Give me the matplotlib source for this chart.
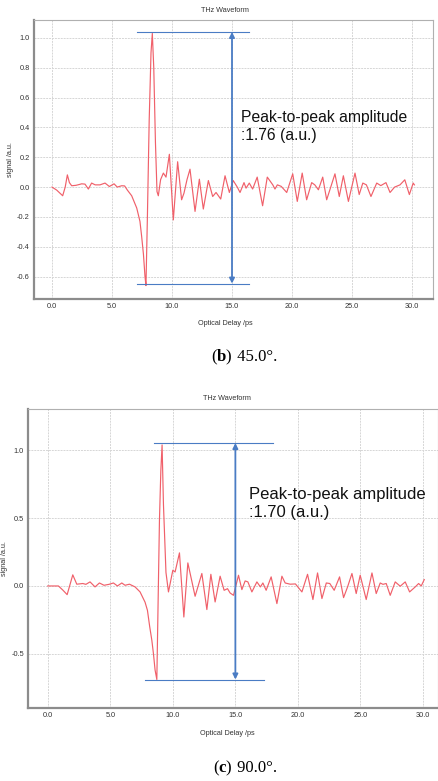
import numpy as np
import matplotlib
matplotlib.use("Agg")
import matplotlib.pyplot as plt
from matplotlib.ticker import FormatStrFormatter

plt.rcParams['font.family'] = ['Liberation Sans', 'DejaVu Sans']
plt.rcParams['axes.unicode_minus'] = False

# ---- panel (b) 45.0 deg : waveform ----
delay_b = [0.0, 0.39, 0.89, 1.1, 1.28, 1.45, 1.64, 2.0, 2.3, 2.47, 2.75, 3.03, 3.3,
           3.6, 4.0, 4.42, 4.78, 5.17, 5.44, 5.8, 6.05, 6.28, 6.64, 7.06, 7.33, 7.47,
           7.62, 7.75, 7.83, 7.95, 8.1, 8.25, 8.36, 8.48, 8.62, 8.75, 8.86, 9.05, 9.28,
           9.5, 9.78, 10.11, 10.47, 10.8, 11.0, 11.25, 11.5, 11.92, 12.28, 12.61, 13.03,
           13.39, 13.67, 14.06, 14.42, 14.78, 15.1, 15.44, 15.67, 16.0, 16.17, 16.44,
           16.72, 17.1, 17.55, 17.94, 18.4, 18.58, 18.78, 19.1, 19.56, 20.06, 20.44,
           20.85, 21.22, 21.64, 21.9, 22.2, 22.56, 22.89, 23.2, 23.58, 23.94, 24.28,
           24.7, 25.25, 25.6, 25.9, 26.2, 26.58, 27.06, 27.4, 27.83, 28.17, 28.55, 29.0,
           29.4, 29.78, 30.1, 30.2]
signal_b = [0.0, -0.02, -0.058, 0.0, 0.082, 0.03, 0.009, 0.012, 0.018, 0.022, 0.02,
            -0.013, 0.027, 0.015, 0.015, 0.027, 0.004, 0.022, 0.0, 0.009, 0.008, -0.02,
            -0.058, -0.14, -0.23, -0.33, -0.45, -0.6, -0.66, -0.2, 0.45, 0.9, 1.03, 0.8,
            0.3, -0.03, -0.058, 0.05, 0.094, 0.067, 0.22, -0.22, 0.17, -0.085, -0.04,
            0.05, 0.12, -0.163, 0.053, -0.147, 0.044, -0.063, -0.036, -0.08, 0.076,
            -0.036, 0.044, 0.0, -0.036, 0.03, -0.007, 0.027, -0.013, 0.067, -0.125,
            0.067, 0.015, -0.013, 0.015, 0.005, -0.036, 0.089, -0.096, 0.094, -0.085,
            0.03, 0.015, -0.018, 0.067, -0.085, -0.007, 0.089, -0.063, 0.076, -0.096,
            0.094, -0.05, 0.027, 0.015, -0.063, 0.027, 0.01, 0.03, -0.036, 0.0, 0.015,
            0.049, -0.05, 0.027, 0.015]

# ---- panel (c) 90.0 deg ----
delay_c = [0.0, 0.85, 1.2, 1.55, 2.0, 2.32, 2.8, 3.05, 3.38, 3.78, 4.13, 4.5, 4.9,
           5.25, 5.57, 5.92, 6.18, 6.53, 6.98, 7.38, 7.78, 7.97, 8.15, 8.32, 8.45, 8.58,
           8.72, 8.93, 9.04, 9.14, 9.25, 9.45, 9.65, 10.0, 10.18, 10.53, 10.88, 11.2,
           11.78, 12.32, 12.72, 13.04, 13.38, 13.78, 14.1, 14.37, 14.58, 14.85, 15.25,
           15.52, 15.78, 16.0, 16.32, 16.72, 17.0, 17.2, 17.46, 17.86, 18.32, 18.72,
           18.98, 19.38, 19.8, 20.32, 20.77, 21.2, 21.57, 21.92, 22.27, 22.55, 22.9,
           23.33, 23.65, 23.97, 24.32, 24.66, 24.98, 25.46, 25.92, 26.26, 26.58, 26.8,
           27.06, 27.38, 27.78, 28.18, 28.58, 28.93, 29.38, 29.65, 29.86, 30.1]
signal_c = [0.0, 0.0, -0.03, -0.064, 0.082, 0.013, 0.018, 0.012, 0.03, -0.007, 0.022,
            0.005, 0.012, 0.022, 0.0, 0.022, 0.005, 0.013, -0.007, -0.044, -0.12, -0.18,
            -0.3, -0.4, -0.5, -0.62, -0.69, 0.485, 0.85, 1.04, 0.6, 0.1, -0.044, 0.116,
            0.103, 0.244, -0.229, 0.17, -0.076, 0.092, -0.174, 0.086, -0.118, 0.072,
            -0.032, -0.02, -0.052, -0.069, 0.079, -0.027, 0.037, 0.03, -0.044, 0.03,
            -0.007, 0.022, -0.032, 0.067, -0.13, 0.072, 0.022, 0.013, 0.015, -0.044,
            0.086, -0.1, 0.096, -0.093, 0.022, 0.018, -0.032, 0.067, -0.086, -0.007,
            0.092, -0.056, 0.079, -0.1, 0.096, -0.056, 0.022, 0.012, 0.018, -0.069,
            0.03, -0.002, 0.03, -0.044, -0.007, 0.018, 0.0, 0.047]

# peak-to-peak markers: (top level, bottom level, top line x-range, bottom line x-range)
ptp_b = dict(top=1.04, bottom=-0.647, top_span=(7.1, 16.4), bot_span=(7.1, 16.4),
             arrow_x=15.0, label=':1.76 (a.u.)', text_xy=(15.75, 0.405))
ptp_c = dict(top=1.054, bottom=-0.69, top_span=(8.48, 17.97), bot_span=(7.78, 17.3),
             arrow_x=15.0, label=':1.70 (a.u.)', text_xy=(16.1, 0.61))

xticks = [0, 5, 10, 15, 20, 25, 30]
yticks_b = [-0.6, -0.4, -0.2, 0.0, 0.2, 0.4, 0.6, 0.8, 1.0]
yticks_c = [-0.5, 0.0, 0.5, 1.0]

wave_color = '#f0606a'
blue = '#4a7cc4'
W, H = 438, 781

fig = plt.figure(figsize=(W / 100, H / 100), dpi=100)

plt.rcParams['mathtext.fontset'] = 'custom'
plt.rcParams['mathtext.rm'] = 'Liberation Serif'
plt.rcParams['mathtext.bf'] = 'Liberation Serif:bold'


def draw_panel(rect, x, y, ptp, yticks, ylim, xlim, caption_letter, caption_rest,
               caption_y, title_y, xlabel_frac, ylabel_frac, fsize):
    ax = fig.add_axes(rect)
    ax.plot(x, y, color=wave_color, lw=0.85, solid_joinstyle='round')
    ax.set_xlim(*xlim)
    ax.set_ylim(*ylim)
    ax.set_xticks(xticks)
    ax.set_yticks(yticks)
    ax.xaxis.set_major_formatter(FormatStrFormatter('%.1f'))
    ax.yaxis.set_major_formatter(FormatStrFormatter('%.1f'))
    ax.tick_params(length=0, labelsize=5.3, colors='#333333', pad=3)
    ax.grid(True, color='#d6d6d6', lw=0.7, linestyle=(0, (2, 1)))
    ax.set_axisbelow(True)
    for s in ['top', 'right']:
        ax.spines[s].set_color('#b0b0b0')
        ax.spines[s].set_linewidth(0.8)
    for s in ['left', 'bottom']:
        ax.spines[s].set_color('#8c8c8c')
        ax.spines[s].set_linewidth(1.6)
    ax.set_xlabel('Optical Delay /ps', fontsize=5.2, color='#333333')
    ax.xaxis.set_label_coords(xlabel_frac, -0.075)
    ax.set_ylabel('signal /a.u.', fontsize=5.2, color='#333333')
    ax.yaxis.set_label_coords(ylabel_frac, 0.5)

    # peak-to-peak guide lines and double arrow
    ax.plot(ptp['top_span'], [ptp['top'], ptp['top']], color=blue, lw=0.8)
    ax.plot(ptp['bot_span'], [ptp['bottom'], ptp['bottom']], color=blue, lw=0.8)
    ax.annotate('', xy=(ptp['arrow_x'], ptp['top']), xytext=(ptp['arrow_x'], ptp['bottom']),
                arrowprops=dict(arrowstyle='<|-|>', color=blue, lw=1.3,
                                mutation_scale=7.5, shrinkA=0, shrinkB=0))
    ax.text(ptp['text_xy'][0], ptp['text_xy'][1], 'Peak-to-peak amplitude\n' + ptp['label'],
            fontsize=fsize, color='#111111', va='center', ha='left', linespacing=1.22)

    fig.text(xlabel_frac * rect[2] + rect[0], title_y, 'THz Waveform', fontsize=5.2,
             color='#333333', ha='center', va='center')
    fig.text(0.532, caption_y, r'$\mathrm{(}\mathbf{' + caption_letter + r'}\mathrm{)}$',
             fontsize=12, ha='right', va='center')
    fig.text(0.532, caption_y, ' ' + caption_rest, fontsize=12, ha='left', va='center',
             family='Liberation Serif')
    return ax


# axes rectangles from pixel boxes
rb = [34 / W, 1 - 299 / H, (433 - 34) / W, (299 - 20) / H]
rc = [28 / W, 1 - 708 / H, (438 - 28) / W, (708 - 409) / H]

draw_panel(rb, delay_b, signal_b, ptp_b, yticks_b, (-0.75, 1.12), (-1.5, 31.75),
           'b', '45.0°.', 1 - 357 / H, 1 - 10 / H, 0.479, -0.05, 11.3)
draw_panel(rc, delay_c, signal_c, ptp_c, yticks_c, (-0.9, 1.305), (-1.58, 31.2),
           'c', '90.0°.', 1 - 768 / H, 1 - 399 / H, 0.485, -0.049, 12.0)

fig.savefig('out.png', dpi=100)
